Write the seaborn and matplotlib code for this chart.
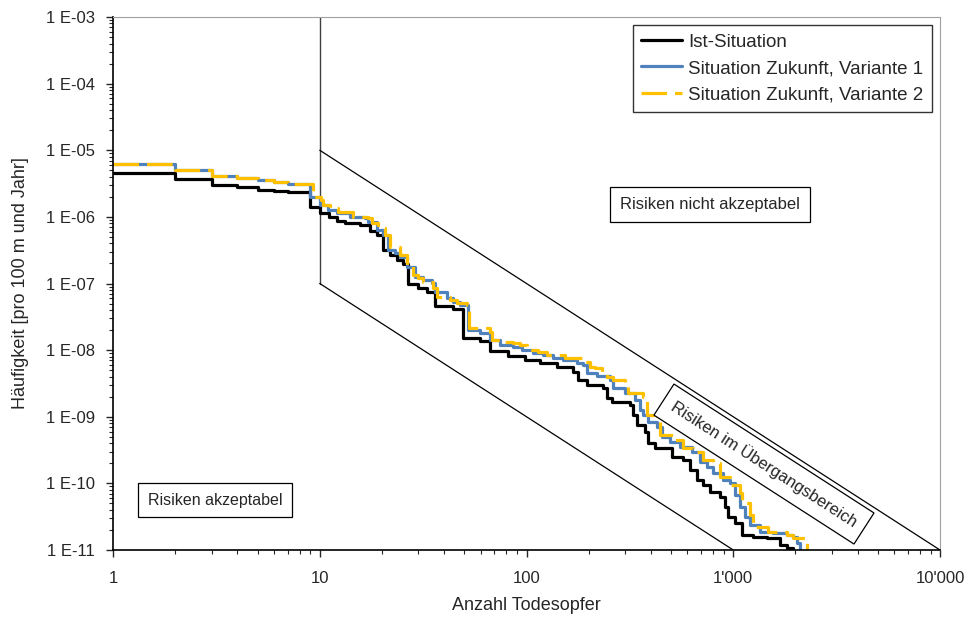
import numpy as np
import pandas as pd
import seaborn as sns
import matplotlib
matplotlib.use("Agg")
import matplotlib.pyplot as plt

# F-N curves (step curves, value holds until next point)
ist_n = [1, 2, 3, 4, 5, 6, 7, 9, 10, 11.1, 12.1, 13.2, 15.7, 17.5, 18.9, 20.2, 21.9, 23.6,
         25.3, 26.7, 29.9, 33.0, 36.1, 44.1, 49.3, 59.6, 66.6, 81.4, 98.3, 116, 140, 168,
         178, 196, 234, 245, 259, 317, 327, 342, 374, 387, 418, 505, 571, 618, 668, 714,
         772, 863, 912, 943, 1020, 1103, 1246, 1456, 1683, 1820, 1945]
ist_f = [4.55e-6, 3.70e-6, 3.01e-6, 2.81e-6, 2.53e-6, 2.45e-6, 2.36e-6, 1.41e-6, 1.14e-6,
         9.95e-7, 8.67e-7, 8.09e-7, 7.55e-7, 6.14e-7, 5.34e-7, 3.18e-7, 2.68e-7, 2.25e-7,
         1.96e-7, 9.83e-8, 8.56e-8, 7.45e-8, 4.59e-8, 4.14e-8, 1.52e-8, 1.37e-8, 9.7e-9,
         8.16e-9, 7.11e-9, 6.41e-9, 5.58e-9, 4.69e-9, 3.56e-9, 3.0e-9, 2.70e-9, 1.91e-9,
         1.66e-9, 1.50e-9, 1.06e-9, 7.52e-10, 5.90e-10, 4.04e-10, 3.40e-10, 2.49e-10,
         2.24e-10, 1.59e-10, 1.12e-10, 9.46e-11, 7.43e-11, 6.25e-11, 4.42e-11, 3.13e-11,
         2.54e-11, 1.68e-11, 1.57e-11, 1.51e-11, 1.19e-11, 1.07e-11, 1e-11]

v1_n = [1, 2, 3, 4, 5, 6, 7, 9, 10, 11, 12.1, 14.0, 16.6, 17.1, 18.9, 20.2, 21.4, 23.1,
        24.4, 26.4, 28.9, 31.6, 34.9, 36.1, 41.3, 44.1, 47.7, 52.1, 59.6, 66.6, 74.4, 86.0,
        95.1, 107.5, 120, 134, 150, 175, 188, 196, 219, 253, 262, 300, 335, 354, 366, 387,
        428, 452, 494, 553, 632, 691, 746, 798, 892, 965, 1020, 1078, 1140, 1205, 1347,
        1557, 1820, 1945, 2034, 2103]
v1_f = [6.22e-6, 5.05e-6, 4.11e-6, 3.83e-6, 3.58e-6, 3.34e-6, 3.11e-6, 1.99e-6, 1.51e-6,
        1.27e-6, 1.14e-6, 9.96e-7, 9.62e-7, 8.38e-7, 6.36e-7, 5.34e-7, 3.18e-7, 2.87e-7,
        2.50e-7, 1.77e-7, 1.25e-7, 1.13e-7, 1.02e-7, 7.45e-8, 6.06e-8, 5.28e-8, 4.76e-8,
        2.00e-8, 1.81e-8, 1.42e-8, 1.19e-8, 1.11e-8, 1.00e-8, 9.05e-9, 8.45e-9, 7.62e-9,
        7.11e-9, 6.41e-9, 5.98e-9, 4.53e-9, 4.09e-9, 3.56e-9, 2.70e-9, 2.27e-9, 1.78e-9,
        1.26e-9, 1.06e-9, 8.34e-10, 7.02e-10, 4.97e-10, 4.18e-10, 3.52e-10, 2.96e-10,
        2.09e-10, 1.76e-10, 1.43e-10, 1.12e-10, 1.01e-10, 6.69e-11, 4.42e-11, 3.13e-11,
        2.37e-11, 1.86e-11, 1.80e-11, 1.68e-11, 1.57e-11, 1.27e-11, 1e-11]

v2_n = [1, 2, 3, 4, 5, 6, 7, 9.3, 10.1, 10.4, 11.2, 12.3, 14.5, 17.1, 17.9, 19.1, 20.7,
        21.9, 24.4, 26.4, 28.2, 29.9, 31.6, 35.3, 36.9, 42.7, 46.1, 51.6, 52.7, 66.6, 68.1,
        76.1, 86.0, 93.0, 101, 114, 126, 154, 185, 203, 214, 232, 245, 262, 300, 310, 366,
        383, 428, 442, 511, 571, 639, 714, 798, 863, 965, 1078, 1103, 1205, 1246, 1473,
        1820, 1945, 2223, 2273]
v2_f = [6.22e-6, 5.05e-6, 4.11e-6, 3.83e-6, 3.58e-6, 3.34e-6, 3.11e-6, 1.99e-6, 1.79e-6,
        1.51e-6, 1.36e-6, 1.18e-6, 9.96e-7, 9.62e-7, 8.09e-7, 6.81e-7, 5.34e-7, 3.53e-7,
        2.68e-7, 1.89e-7, 1.34e-7, 1.21e-7, 1.05e-7, 8.56e-8, 6.27e-8, 5.65e-8, 5.10e-8,
        4.76e-8, 2.15e-8, 1.87e-8, 1.42e-8, 1.32e-8, 1.28e-8, 1.19e-8, 1.00e-8, 9.37e-9,
        8.45e-9, 7.62e-9, 6.64e-9, 5.58e-9, 5.39e-9, 4.53e-9, 3.95e-9, 3.56e-9, 3.00e-9,
        2.27e-9, 1.98e-9, 1.06e-9, 8.34e-10, 5.32e-10, 4.48e-10, 3.40e-10, 2.96e-10,
        2.24e-10, 2.02e-10, 1.25e-10, 9.46e-11, 7.17e-11, 5.08e-11, 3.35e-11, 2.21e-11,
        1.86e-11, 1.68e-11, 1.51e-11, 1.32e-11, 1e-11]

series_names = ["Ist-Situation", "Situation Zukunft, Variante 1", "Situation Zukunft, Variante 2"]
series_colors = ["black", "#4F81BD", "#FFC000"]

x_ticks = [1, 10, 100, 1000, 10000]
x_ticklabels = ["1", "10", "100", "1'000", "10'000"]
y_ticks = [1e-11, 1e-10, 1e-9, 1e-8, 1e-7, 1e-6, 1e-5, 1e-4, 1e-3]
y_ticklabels = ["1 E-11", "1 E-10", "1 E-09", "1 E-08", "1 E-07", "1 E-06", "1 E-05", "1 E-04", "1 E-03"]

sns.set_style("ticks")
plt.rcParams["font.family"] = ["Liberation Sans", "DejaVu Sans"]

fig = plt.figure(figsize=(9.68, 6.19), dpi=100)
ax = fig.add_axes([113 / 968, 69 / 619, 827 / 968, 533 / 619])

# limit lines
ax.plot([10, 10], [1e-3, 1e-7], color="#404040", lw=1.0)
ax.plot([10, 10000], [1e-5, 1e-11], color="black", lw=0.9)
ax.plot([10, 1000], [1e-7, 1e-11], color="black", lw=0.9)

curves = [(ist_n, ist_f), (v1_n, v1_f), (v2_n, v2_f)]
for (n, f), name, col in zip(curves, series_names, series_colors):
    df = pd.DataFrame({"n": n, "f": f})
    ls = (0, (8, 2.5)) if name.endswith("2") else "-"
    sns.lineplot(data=df, x="n", y="f", ax=ax, color=col, lw=2.3, linestyle=ls,
                 drawstyle="steps-post", estimator=None, sort=False, label=name)

ax.set_xscale("log")
ax.set_yscale("log")
ax.set_xlim(1, 10000)
ax.set_ylim(1e-11, 1e-3)
ax.set_xticks(x_ticks)
ax.set_xticklabels(x_ticklabels)
ax.set_yticks(y_ticks)
ax.set_yticklabels(y_ticklabels)
ax.tick_params(axis="both", which="major", labelsize=12, length=5, width=1, direction="out")
ax.tick_params(axis="x", which="major", pad=10)
ax.tick_params(axis="y", which="major", pad=8)
ax.tick_params(axis="both", which="minor", length=3, width=0.8, direction="out")

ax.set_xlabel("Anzahl Todesopfer", fontsize=13, labelpad=8)
ax.set_ylabel("Häufigkeit [pro 100 m und Jahr]", fontsize=13, labelpad=12)

for side in ["top", "right"]:
    ax.spines[side].set_color("#A0A0A0")
for side in ["left", "bottom"]:
    ax.spines[side].set_color("black")
    ax.spines[side].set_linewidth(1.2)

box = dict(boxstyle="square,pad=0.6", fc="white", ec="black", lw=0.9)
ax.text(772, 1.56e-6, "Risiken nicht akzeptabel", ha="center", va="center", fontsize=12, bbox=box)
ax.text(3.11, 5.6e-11, "Risiken akzeptabel", ha="center", va="center", fontsize=11.5, bbox=box)
ax.text(1408, 1.95e-10, "Risiken im Übergangsbereich", ha="center", va="center", fontsize=12,
        rotation=-32.8, rotation_mode="anchor", bbox=box)

leg = ax.legend(loc="upper right", bbox_to_anchor=(0.99, 0.985), borderaxespad=0, fontsize=13.5,
                frameon=True, fancybox=False, edgecolor="black", handlelength=2.2,
                handletextpad=0.3, labelspacing=0.5, borderpad=0.45)
leg.get_frame().set_linewidth(1.0)

fig.savefig("out.png", dpi=100)
